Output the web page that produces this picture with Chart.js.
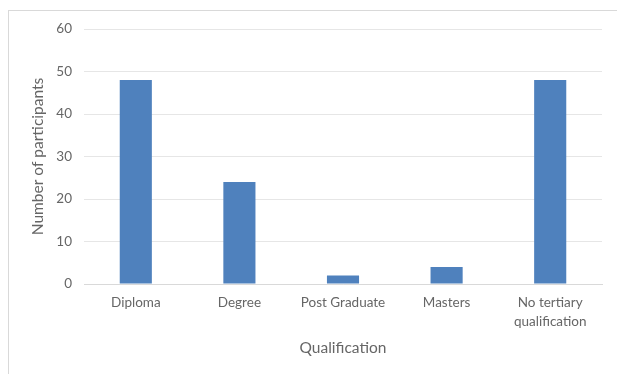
<!DOCTYPE html>
<html>
<head>
<meta charset="utf-8">
<script src="https://cdn.jsdelivr.net/npm/chart.js@4/dist/chart.umd.min.js"></script>
<style>
  html, body { margin:0; padding:0; background:#fff; }
  #frame { position:absolute; left:8px; top:10px; width:640px; height:400px;
           border-left:1px solid #d9d9d9; border-top:1px solid #d9d9d9; }
  #chart { position:absolute; left:0; top:0; }
</style>
</head>
<body>
<div id="frame"></div>
<canvas id="chart" width="617" height="374"></canvas>
<script>
// categories and counts
const categories = ["Diploma", "Degree", "Post Graduate", "Masters", ["No tertiary", "qualification"]];
const participants = [48, 24, 2, 4, 48];
const yTicks = [0, 10, 20, 30, 40, 50, 60];

const textColor = '#666666';
const fontFam = "Lato, 'Open Sans', sans-serif";

const ctx = document.getElementById('chart').getContext('2d');
new Chart(ctx, {
  type: 'bar',
  data: {
    labels: categories,
    datasets: [{
      label: 'Number of participants',
      data: participants,
      backgroundColor: '#4f81bd',
      barPercentage: 0.31,
      categoryPercentage: 1
    }]
  },
  options: {
    responsive: false,
    animation: false,
    layout: { padding: { left: 0, right: 15, top: 29, bottom: 0 } },
    plugins: { legend: { display: false }, tooltip: { enabled: false } },
    scales: {
      x: {
        grid: { display: false, drawTicks: false },
        border: { color: '#d9d9d9' },
        ticks: { color: textColor, padding: 9, maxRotation: 0, autoSkip: false,
                 font: { family: fontFam, size: 13.5, lineHeight: 1.4 } },
        title: { display: true, text: 'Qualification', color: textColor,
                 font: { family: fontFam, size: 15.5 }, padding: { top: 0, bottom: 17 } },
        afterFit: s => { s.height = 90; }
      },
      y: {
        min: 0, max: 60,
        afterBuildTicks: s => { s.ticks = yTicks.map(v => ({ value: v })); },
        grid: { color: '#e6e6e6', drawTicks: false },
        border: { display: false },
        ticks: { color: textColor, padding: 12, font: { family: fontFam, size: 13.5 } },
        title: { display: true, text: 'Number of participants', color: textColor,
                 font: { family: fontFam, size: 15.5 }, padding: { top: 29, bottom: 0 } },
        afterFit: s => { s.width = 84; }
      }
    }
  }
});
</script>
</body>
</html>
